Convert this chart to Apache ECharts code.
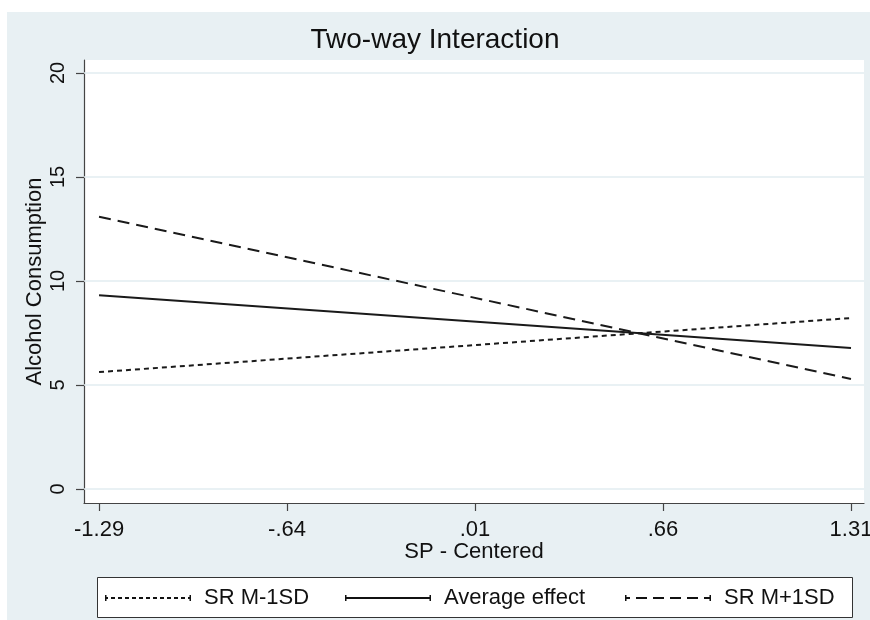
<!DOCTYPE html>
<html>
<head>
<meta charset="utf-8">
<script src="https://cdn.jsdelivr.net/npm/echarts@6/dist/echarts.min.js"></script>
<style>
html,body{margin:0;padding:0;background:#fff;}
#chart{width:870px;height:620px;}
</style>
</head>
<body>
<div id="chart"></div>
<script>
// ---- data ----
const xValues = [-1.29, 1.31];
const srLow = [5.62, 8.22];      // SR M-1SD
const avgEffect = [9.31, 6.78];  // Average effect
const srHigh = [13.09, 5.29];    // SR M+1SD
const xTickValues = [-1.29, -0.64, 0.01, 0.66, 1.31];
const xTickLabels = ['-1.29', '-.64', '.01', '.66', '1.31'];
const yTickValues = [0, 5, 10, 15, 20];
const seriesNames = ['SR M-1SD', 'Average effect', 'SR M+1SD'];

const FONT = "'Liberation Sans', Arial, sans-serif";
const INK = '#111';

function pair(xs, ys) { return xs.map((x, i) => [x, ys[i]]); }
function rect(x0, y0, x1, y1) { return `M${x0},${y0}L${x1},${y0}L${x1},${y1}L${x0},${y1}Z`; }
// legend icons, 86 x 6 units
const caps = rect(0, 0, 1.5, 6) + rect(84.5, 0, 86, 6);
function dottedIcon() {
  let p = caps + rect(0, 2, 3, 4);
  for (let s = 6; s + 4 <= 81; s += 7) p += rect(s, 2, s + 4, 4);
  p += rect(83, 2, 86, 4);
  return 'path://' + p;
}
function dashedIcon() {
  let p = caps + rect(0, 2, 5, 4);
  [11, 28, 45, 62].forEach(s => { p += rect(s, 2, s + 11, 4); });
  p += rect(79, 2, 86, 4);
  return 'path://' + p;
}
function solidIcon() { return 'path://' + caps + rect(0, 2, 86, 4); }
const icons = [dottedIcon(), solidIcon(), dashedIcon()];
const dashes = [[5, 4], 'solid', [12, 7]];
const legendLefts = [105, 345, 625];
const seriesData = [srLow, avgEffect, srHigh];

const chart = echarts.init(document.getElementById('chart'), null, {renderer: 'canvas'});

const series = seriesData.map((ys, i) => ({
  name: seriesNames[i],
  type: 'line',
  data: pair(xValues, ys),
  symbol: 'none',
  z: 5,
  color: '#1a1a1a',
  lineStyle: {color: '#1a1a1a', width: 2, type: dashes[i]},
  emphasis: {disabled: true}
}));
// horizontal grid lines
series[0].markLine = {
  silent: true,
  symbol: 'none',
  label: {show: false},
  z: 1,
  lineStyle: {color: '#e2ecf0', width: 1.5, type: 'solid'},
  data: yTickValues.map(v => ({yAxis: v}))
};

const option = {
  animation: false,
  backgroundColor: '#e8f0f3',
  textStyle: {fontFamily: FONT},
  title: {
    text: 'Two-way Interaction',
    left: 'center',
    top: 21,
    textStyle: {fontFamily: FONT, fontSize: 28, fontWeight: 'normal', color: INK}
  },
  graphic: [
    {type: 'rect', shape: {x: 0, y: 0, width: 870, height: 12}, style: {fill: '#fff'}, silent: true},
    {type: 'rect', shape: {x: 0, y: 0, width: 7, height: 620}, style: {fill: '#fff'}, silent: true},
    {type: 'rect', shape: {x: 97.5, y: 577.5, width: 755, height: 40}, style: {fill: '#fff', stroke: '#333', lineWidth: 1}, silent: true}
  ],
  legend: seriesNames.map((n, i) => ({
    data: [{name: n, icon: icons[i]}],
    left: legendLefts[i],
    top: 587,
    padding: 0,
    itemWidth: 86,
    itemHeight: 6,
    symbolKeepAspect: false,
    selectedMode: false,
    itemStyle: {color: INK, borderWidth: 0},
    textStyle: {fontFamily: FONT, fontSize: 22, color: INK, padding: [0, 0, 0, 8]}
  })),
  grid: {
    left: 84, right: 6, top: 60, bottom: 117,
    show: true, backgroundColor: '#fff', borderWidth: 0,
    outerBoundsMode: 'none', containLabel: false
  },
  xAxis: {
    type: 'value',
    min: -1.342, max: 1.355,
    name: 'SP - Centered',
    nameLocation: 'middle',
    nameGap: 38,
    nameMoveOverlap: false,
    nameTextStyle: {fontFamily: FONT, fontSize: 22, color: INK},
    axisLine: {show: true, onZero: false, lineStyle: {color: '#444', width: 1.2}},
    axisTick: {show: true, length: 8, customValues: xTickValues, lineStyle: {color: '#444', width: 1.2}},
    axisLabel: {
      customValues: xTickValues,
      margin: 16,
      fontFamily: FONT, fontSize: 22, color: INK,
      formatter: v => {
        const k = xTickValues.findIndex(t => Math.abs(t - v) < 1e-6);
        return k >= 0 ? xTickLabels[k] : '';
      }
    },
    splitLine: {show: false}
  },
  yAxis: {
    type: 'value',
    min: -0.673, max: 20.625,
    name: 'Alcohol Consumption',
    nameLocation: 'middle',
    nameRotate: 90,
    nameGap: 38,
    nameMoveOverlap: false,
    nameTextStyle: {fontFamily: FONT, fontSize: 22, color: INK},
    axisLine: {show: true, onZero: false, lineStyle: {color: '#444', width: 1.2}},
    axisTick: {show: true, length: 8, customValues: yTickValues, lineStyle: {color: '#444', width: 1.2}},
    axisLabel: {
      customValues: yTickValues,
      rotate: 90,
      margin: 16,
      fontFamily: FONT, fontSize: 20, color: INK,
      formatter: v => String(v)
    },
    splitLine: {show: false}
  },
  series: series
};
chart.setOption(option);
</script>
</body>
</html>
